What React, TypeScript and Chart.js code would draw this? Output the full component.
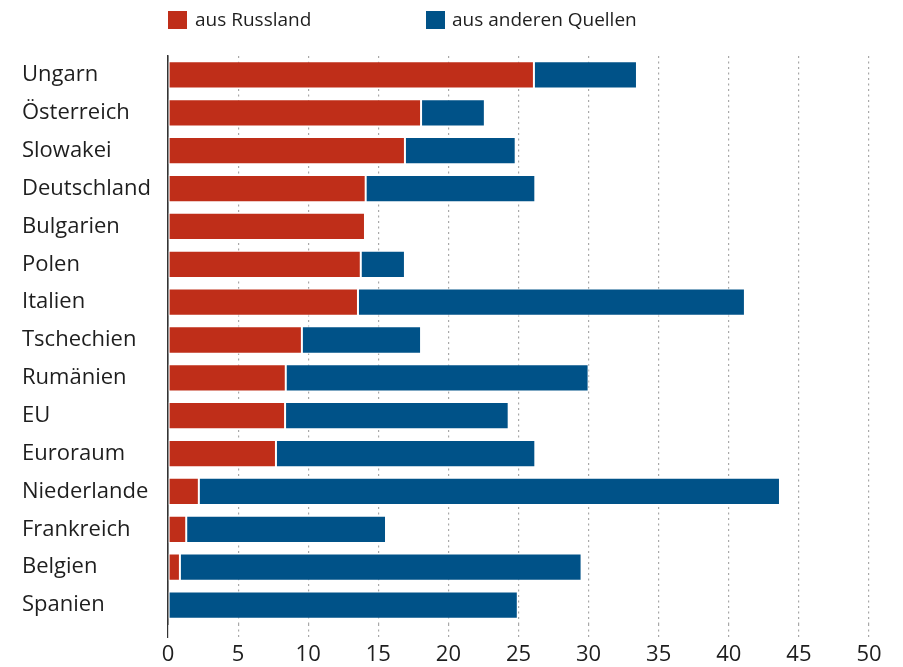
import React, { useEffect, useRef } from "react";
import { Chart, registerables } from "chart.js";

Chart.register(...registerables);

const categories = [
  "Ungarn",
  "Österreich",
  "Slowakei",
  "Deutschland",
  "Bulgarien",
  "Polen",
  "Italien",
  "Tschechien",
  "Rumänien",
  "EU",
  "Euroraum",
  "Niederlande",
  "Frankreich",
  "Belgien",
  "Spanien",
];

const fromRussia = [26.1, 18.05, 16.9, 14.1, 14.05, 13.75, 13.55, 9.55, 8.4, 8.35, 7.7, 2.2, 1.3, 0.85, 0];
const fromOther = [7.35, 4.55, 7.9, 12.1, 0, 3.15, 27.6, 8.5, 21.6, 15.95, 18.5, 41.45, 14.25, 28.65, 24.95];

const xTicks = [0, 5, 10, 15, 20, 25, 30, 35, 40, 45, 50];

const seriesNames = ["aus Russland", "aus anderen Quellen"];
const RED = "#bf2e19";
const BLUE = "#005288";
const FONT = "'Open Sans', 'Noto Sans', sans-serif";

export default function App() {
  const ref = useRef<HTMLCanvasElement | null>(null);

  useEffect(() => {
    if (!ref.current) return;
    const chart = new Chart(ref.current, {
      type: "bar",
      data: {
        labels: categories,
        datasets: [
          {
            label: seriesNames[0],
            data: fromRussia,
            backgroundColor: RED,
            borderColor: "#ffffff",
            borderWidth: 1,
            borderSkipped: false,
            barPercentage: 0.72,
            categoryPercentage: 1,
          },
          {
            label: seriesNames[1],
            data: fromOther,
            backgroundColor: BLUE,
            borderColor: "#ffffff",
            borderWidth: 1,
            borderSkipped: false,
            barPercentage: 0.72,
            categoryPercentage: 1,
          },
        ],
      },
      options: {
        indexAxis: "y",
        responsive: false,
        animation: false,
        layout: { padding: { left: 22, right: 34, top: 56, bottom: 0 } },
        plugins: {
          legend: { display: false },
          tooltip: { enabled: false },
        },
        scales: {
          x: {
            stacked: true,
            min: 0,
            max: 50,
            afterBuildTicks: (scale: any) => {
              scale.ticks = xTicks.map((v) => ({ value: v }));
            },
            afterFit: (scale: any) => {
              scale.height = 43;
            },
            ticks: {
              color: "#1e1e1e",
              font: { family: FONT, size: 22 },
              padding: 4,
              maxRotation: 0,
            },
            grid: {
              color: (ctx: any) => (ctx.tick && ctx.tick.value === 0 ? "#333" : "#a8a8a8"),
              tickColor: (ctx: any) => (ctx.tick && ctx.tick.value === 0 ? "#333" : "#a8a8a8"),
              lineWidth: 1.2,
              tickWidth: 1.2,
              tickLength: 14,
              tickBorderDash: (ctx: any) => (ctx.tick && ctx.tick.value === 0 ? [] : [2, 3.5]),
            },
            border: {
              display: false,
              dash: (ctx: any) => (ctx.tick && ctx.tick.value === 0 ? [] : [2, 3.5]),
            },
          },
          y: {
            stacked: true,
            afterFit: (scale: any) => {
              scale.width = 146;
            },
            ticks: {
              color: "#1e1e1e",
              font: { family: FONT, size: 22 },
              crossAlign: "far",
              padding: 8,
            },
            grid: { display: false },
            border: { display: true, color: "#333", width: 1.5 },
          },
        },
      },
    });
    return () => chart.destroy();
  }, []);

  const legendText: React.CSSProperties = {
    position: "absolute",
    top: 6,
    fontFamily: FONT,
    fontSize: 19,
    color: "#1e1e1e",
    lineHeight: "26px",
    whiteSpace: "nowrap",
  };
  const box = (left: number, color: string): React.CSSProperties => ({
    position: "absolute",
    left,
    top: 11,
    width: 19,
    height: 18,
    background: color,
  });

  return (
    <div style={{ position: "fixed", left: 0, top: 0, width: 903, height: 667, background: "#fff" }}>
      <canvas ref={ref} width={903} height={667} style={{ position: "absolute", left: 0, top: 0, width: 903, height: 667 }} />
      <div style={box(168, RED)} />
      <div style={{ ...legendText, left: 195 }}>{seriesNames[0]}</div>
      <div style={box(426, BLUE)} />
      <div style={{ ...legendText, left: 452 }}>{seriesNames[1]}</div>
    </div>
  );
}
